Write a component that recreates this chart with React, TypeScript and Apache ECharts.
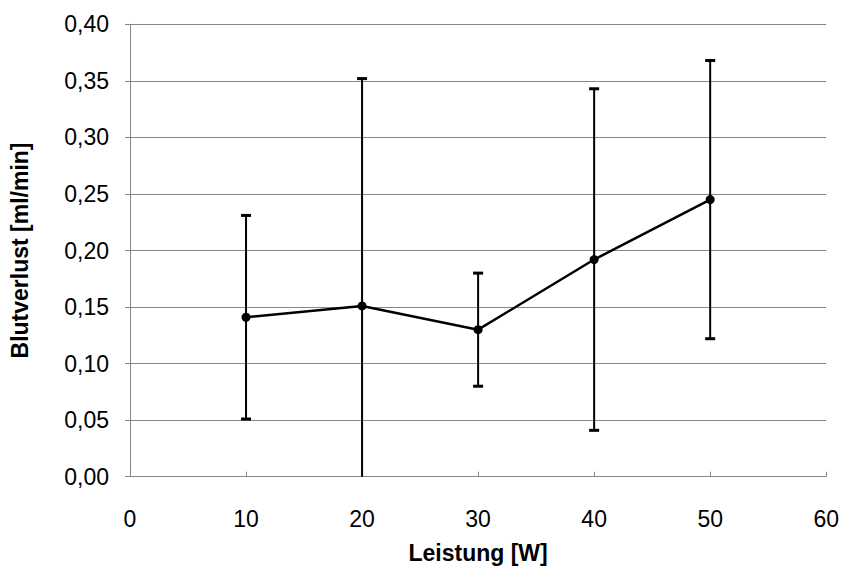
import React, { useEffect, useRef } from "react";
import * as echarts from "echarts";

const power = [10, 20, 30, 40, 50];
const bloodLoss = [0.141, 0.151, 0.13, 0.192, 0.245];
const stdDev = [0.09, 0.201, 0.05, 0.151, 0.123];
const xTicks = [0, 10, 20, 30, 40, 50, 60];
const yTicks = [0, 0.05, 0.1, 0.15, 0.2, 0.25, 0.3, 0.35, 0.4];

const FONT = "'Liberation Sans', Arial, sans-serif";

export default function App() {
  const ref = useRef<HTMLDivElement>(null);
  useEffect(() => {
    if (!ref.current) return;
    const chart = echarts.init(ref.current, null, { renderer: "svg" });
    const lineData = power.map((p, i) => [p, bloodLoss[i]]);
    const errData = power.map((p, i) => [p, bloodLoss[i] - stdDev[i], bloodLoss[i] + stdDev[i]]);
    chart.setOption({
      animation: false,
      backgroundColor: "#ffffff",
      textStyle: { fontFamily: FONT, color: "#000" },
      grid: { left: 122, right: 15.5, top: 24.3, bottom: 97.3 },
      xAxis: {
        type: "value",
        min: xTicks[0],
        max: xTicks[xTicks.length - 1],
        interval: 10,
        name: "Leistung [W]",
        nameLocation: "middle",
        nameGap: 65,
        nameTextStyle: { fontFamily: FONT, fontSize: 23, fontWeight: "bold", color: "#000" },
        axisLine: { lineStyle: { color: "#868686", width: 1 } },
        axisTick: { inside: true, length: 5, lineStyle: { color: "#868686" } },
        axisLabel: { fontFamily: FONT, fontSize: 23, color: "#000", margin: 31 },
        splitLine: { show: false },
      },
      yAxis: {
        type: "value",
        min: yTicks[0],
        max: yTicks[yTicks.length - 1],
        interval: 0.05,
        name: "Blutverlust [ml/min]",
        nameLocation: "middle",
        nameGap: 99,
        nameTextStyle: { fontFamily: FONT, fontSize: 23, fontWeight: "bold", color: "#000" },
        axisLine: { show: true, lineStyle: { color: "#868686", width: 1 } },
        axisTick: { show: true, inside: false, length: 5, lineStyle: { color: "#868686" } },
        axisLabel: {
          fontFamily: FONT,
          fontSize: 23,
          color: "#000",
          margin: 21,
          formatter: (v: number) => v.toFixed(2).replace(".", ","),
        },
        splitLine: { show: true, lineStyle: { color: "#878787", width: 1 } },
      },
      series: [
        {
          type: "custom",
          data: errData,
          clip: false,
          z: 2,
          renderItem: (params: any, api: any) => {
            const x = api.value(0);
            const lo = api.value(1);
            const hi = api.value(2);
            const top = api.coord([x, hi]);
            const bot = api.coord([x, Math.max(lo, 0)]);
            const hw = 5;
            const style = { stroke: "#000", lineWidth: 2 };
            const capStyle = { stroke: "#000", lineWidth: 3 };
            const children: any[] = [
              { type: "line", shape: { x1: top[0], y1: top[1], x2: bot[0], y2: bot[1] }, style },
              { type: "line", shape: { x1: top[0] - hw, y1: top[1], x2: top[0] + hw, y2: top[1] }, style: capStyle },
            ];
            if (lo >= 0) {
              children.push({
                type: "line",
                shape: { x1: bot[0] - hw, y1: bot[1], x2: bot[0] + hw, y2: bot[1] },
                style: capStyle,
              });
            }
            return { type: "group", children };
          },
        },
        {
          type: "line",
          data: lineData,
          z: 3,
          symbol: "circle",
          symbolSize: 9,
          lineStyle: { color: "#000", width: 2.5 },
          itemStyle: { color: "#000" },
        },
      ],
    });
    return () => chart.dispose();
  }, []);
  return (
    <div
      ref={ref}
      style={{ position: "absolute", left: 0, top: 0, width: 842, height: 574 }}
    />
  );
}
